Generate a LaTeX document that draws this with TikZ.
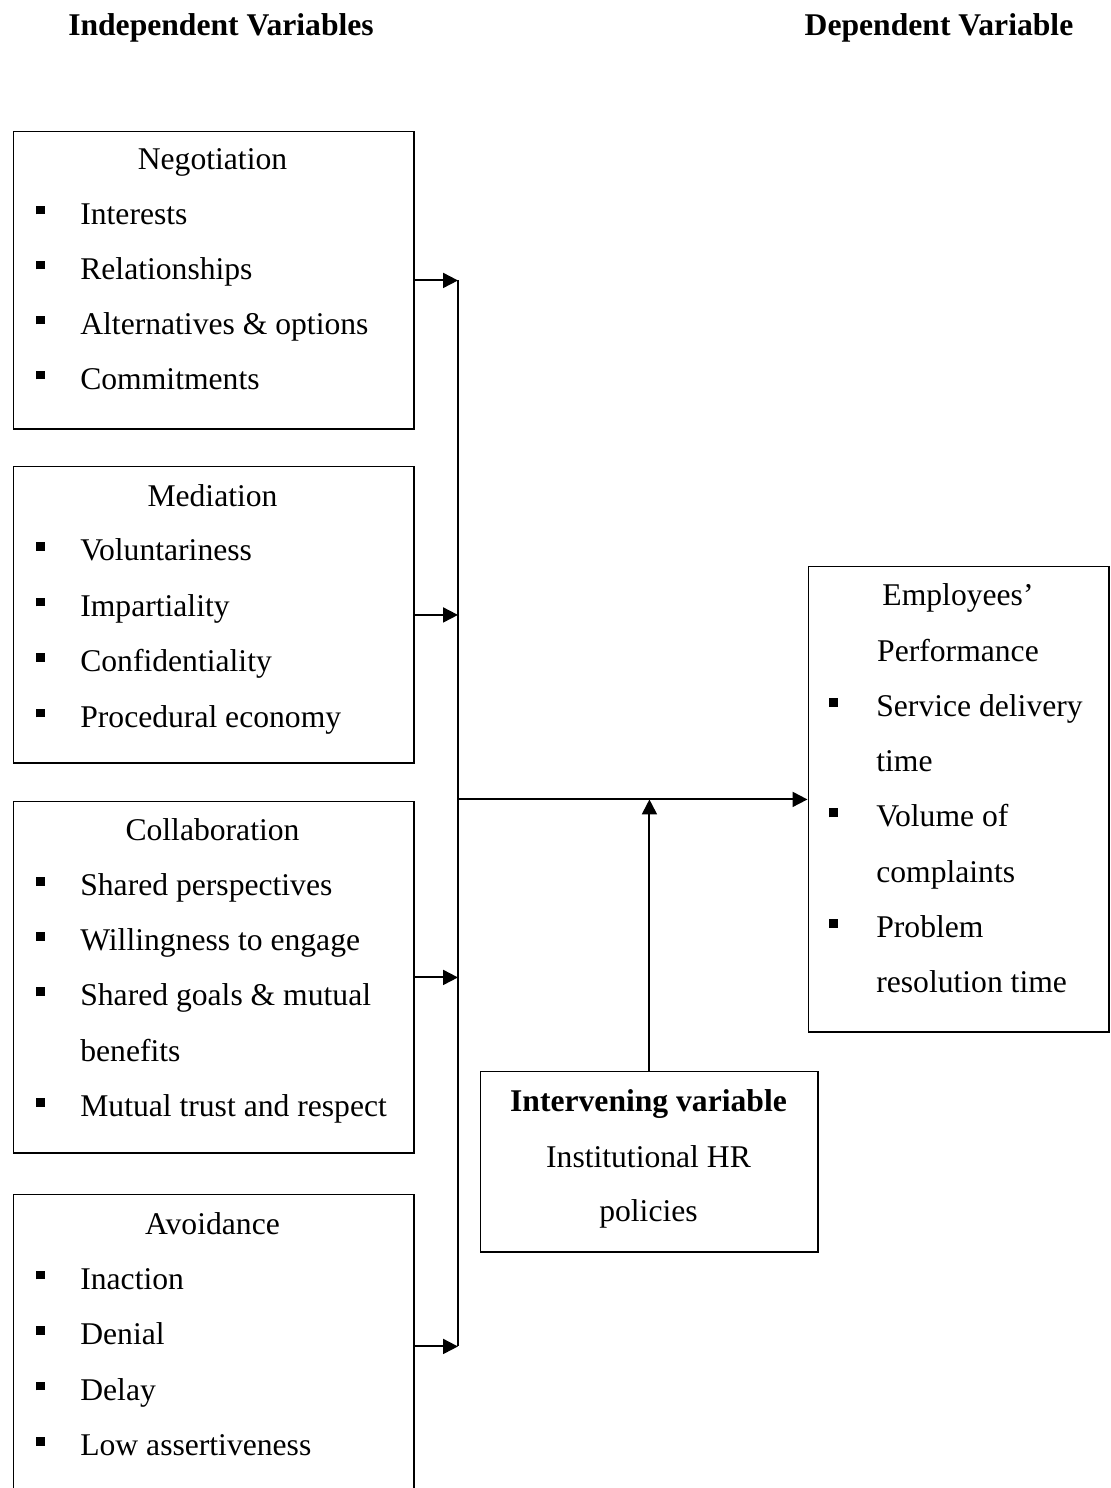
\documentclass[tikz,border=0pt]{standalone}
\usepackage{fontspec}
\setmainfont{Liberation Serif}
\usepackage{tikz}
\usetikzlibrary{arrows.meta}

\newcommand{\sqbul}{\rule[5.5pt]{5pt}{5pt}}

\begin{document}
\begin{tikzpicture}[x=0.02cm,y=-0.02cm,
	every node/.style={font=\fontsize{18}{22}\selectfont},
	box/.style={draw,line width=1.1pt,anchor=north west,inner sep=0pt},
	head/.style={anchor=base,inner sep=0pt},
	item/.style={anchor=base west,inner sep=0pt},
	arr/.style={line width=1.1pt,-{Triangle[length=8.5pt,width=8.5pt]}}]
	\useasboundingbox (0,0) rectangle (1110,1488);
	
	% column headings
	\node[head,font=\fontsize{18}{22}\selectfont\bfseries] (indep) at (221,35) {Independent Variables};
	\node[head,font=\fontsize{18}{22}\selectfont\bfseries] (depend) at (939,35) {Dependent Variable};
	
	% boxes
	\node[box,minimum width=8.02cm,minimum height=5.96cm] (neg) at (12.5,130.5) {};
	\node[box,minimum width=8.02cm,minimum height=5.94cm] (med) at (12.5,465.5) {};
	\node[box,minimum width=8.02cm,minimum height=7.04cm] (col) at (12.5,800.5) {};
	\node[box,minimum width=8.02cm,minimum height=6.08cm] (avo) at (12.5,1193.5) {};
	\node[box,minimum width=6.02cm,minimum height=9.32cm] (dep) at (807.5,565.5) {};
	\node[box,minimum width=6.76cm,minimum height=3.62cm] (int) at (479.5,1070.5) {};
	
	% negotiation
	\node[head] (neg-t) at (212.5,169) {Negotiation};
	\foreach \t [count=\i] in {Interests,Relationships,Alternatives \& options,Commitments}
	\node[item] (neg-\i) at (36,{169+55*\i}) {\makebox[0.88cm][l]{\sqbul}\t};
	
	% mediation
	\node[head] (med-t) at (212.5,506) {Mediation};
	\foreach \t [count=\i] in {Voluntariness,Impartiality,Confidentiality,Procedural economy}
	\node[item] (med-\i) at (36,{505+55.5*\i}) {\makebox[0.88cm][l]{\sqbul}\t};
	
	% collaboration
	\node[head] (col-t) at (212.5,840) {Collaboration};
	\foreach \t/\b [count=\i] in {Shared perspectives/\sqbul,Willingness to engage/\sqbul,Shared goals \& mutual/\sqbul,benefits/,Mutual trust and respect/\sqbul}
	\node[item] (col-\i) at (36,{840+55.3*\i}) {\makebox[0.88cm][l]{\b}\t};
	
	% avoidance
	\node[head] (avo-t) at (212.5,1234) {Avoidance};
	\foreach \t [count=\i] in {Inaction,Denial,Delay,Low assertiveness}
	\node[item] (avo-\i) at (36,{1233.5+55.5*\i}) {\makebox[0.88cm][l]{\sqbul}\t};
	
	% employees' performance
	\node[head] (dep-t1) at (958,605) {Employees’};
	\node[head] (dep-t2) at (958,661) {Performance};
	\foreach \t/\b [count=\i] in {Service delivery/\sqbul,time/,Volume of/\sqbul,complaints/,Problem/\sqbul,resolution time/}
	\node[item] (dep-\i) at (829,{661+55.3*\i}) {\makebox[0.94cm][l]{\b}\t};
	
	% intervening variable
	\node[head,font=\fontsize{18}{22}\selectfont\bfseries] (int-1) at (648.5,1111) {Intervening variable};
	\node[head] (int-2) at (648.5,1167) {Institutional HR};
	\node[head] (int-3) at (648.5,1221) {policies};
	
	% connectors
	\coordinate (busx) at (458,0);
	\draw[line width=1.1pt] (neg.east -| busx) -- (avo.east -| busx);
	\foreach \b in {neg,med,col,avo}
	\draw[arr] (\b.east) -- (\b.east -| busx);
	\draw[arr] (dep.west -| busx) -- (dep.west);
	\draw[arr] (int.north) -- (int.north |- dep.west);
\end{tikzpicture}
\end{document}
